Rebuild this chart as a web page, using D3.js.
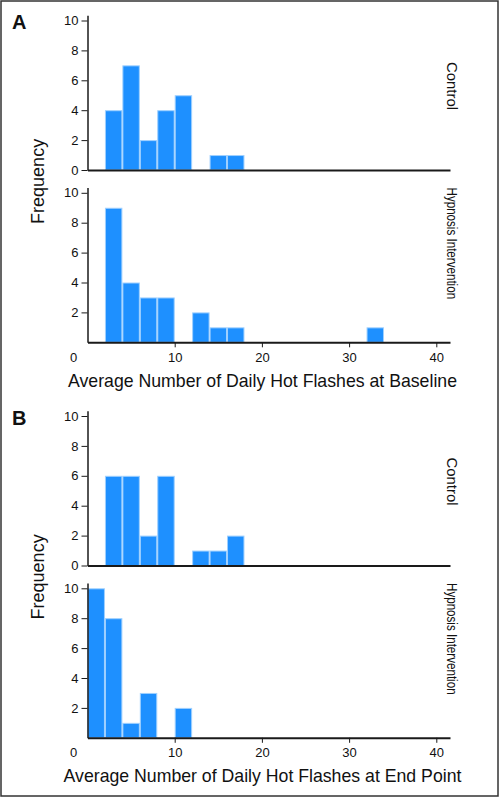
<!DOCTYPE html>
<html>
<head>
<meta charset="utf-8">
<script src="https://cdn.jsdelivr.net/npm/d3@7"></script>
<style>
  html, body { margin: 0; padding: 0; background: #fff; }
  svg { display: block; }
  text { font-family: "Liberation Sans", Arial, Helvetica, sans-serif; fill: #111; }
</style>
</head>
<body>
<svg id="chart" width="500" height="798"></svg>
<script>
// ---- Data (bin width 2, bins starting at these left edges) ----
const binStarts = [0, 2, 4, 6, 8, 10, 12, 14, 16, 18, 20, 22, 24, 26, 28, 30, 32];
const binWidth = 2;
const baselineControl  = [0, 4, 7, 2, 4, 5, 0, 1, 1, 0, 0, 0, 0, 0, 0, 0, 0];
const baselineHypnosis = [0, 9, 4, 3, 3, 0, 2, 1, 1, 0, 0, 0, 0, 0, 0, 0, 1];
const endControl       = [0, 6, 6, 2, 6, 0, 1, 1, 2, 0, 0, 0, 0, 0, 0, 0, 0];
const endHypnosis      = [10, 8, 1, 3, 0, 2, 0, 0, 0, 0, 0, 0, 0, 0, 0, 0, 0];

const groupLabels = ["Control", "Hypnosis Intervention"];
const panelLetters = ["A", "B"];
const xTitles = ["Average Number of Daily Hot Flashes at Baseline",
                 "Average Number of Daily Hot Flashes at End Point"];
const yTitle = "Frequency";
const controlTicks = [0, 2, 4, 6, 8, 10];
const hypnosisTicks = [2, 4, 6, 8, 10];
const xTicks = [10, 20, 30, 40];

// ---- Layout ----
const svg = d3.select("#chart");
const W = 500, H = 798;
const barFill = "#1e90ff";
const barStroke = "#9fd0ff";
const axisColor = "#1a1a1a";

svg.append("rect")
  .attr("x", 1).attr("y", 1).attr("width", W - 3).attr("height", H - 3)
  .attr("fill", "none").attr("stroke", "#333").attr("stroke-width", 1.5);

const x = d3.scaleLinear().domain([0, 41.57]).range([87.5, 450]);

const blocks = [
  { series: [baselineControl, baselineHypnosis], offset: 0 },
  { series: [endControl, endHypnosis], offset: 395.5 }
];

const baseCtrl = 170, baseHyp = 342.3, unit = 14.95, yMax = 10.35;
const stripLengths = [48, 111.6];

blocks.forEach((blk, bi) => {
  const g = svg.append("g").attr("transform", `translate(0,${blk.offset})`);
  const bases = [baseCtrl, baseHyp];

  blk.series.forEach((vals, si) => {
    const base = bases[si];
    const y = d3.scaleLinear().domain([0, yMax]).range([base, base - unit * yMax]);
    const pg = g.append("g");

    // bars
    const data = binStarts.map((s, i) => ({ x0: s, x1: s + binWidth, n: vals[i] })).filter(d => d.n > 0);
    pg.selectAll("rect.bar").data(data).join("rect")
      .attr("class", "bar")
      .attr("x", d => x(d.x0) + 0.5)
      .attr("width", d => x(d.x1) - x(d.x0) - 1)
      .attr("y", d => y(d.n) + 0.5)
      .attr("height", d => y(0) - y(d.n) - 0.5)
      .attr("fill", barFill)
      .attr("stroke", barStroke)
      .attr("stroke-width", 1);

    // y axis
    const ya = pg.append("g")
      .attr("transform", `translate(${x(0)},0)`)
      .call(d3.axisLeft(y).tickValues(si === 0 ? controlTicks : hypnosisTicks)
        .tickSize(6).tickPadding(3).tickSizeOuter(0).tickFormat(d3.format("d")));
    ya.select(".domain").attr("stroke", axisColor).attr("stroke-width", 1.5);
    ya.selectAll(".tick line").attr("stroke", axisColor).attr("stroke-width", 1);
    ya.selectAll(".tick text").attr("font-size", 13).attr("fill", "#111")
      .style("font-family", '"Liberation Sans", Arial, sans-serif');

    // x axis
    const xa = pg.append("g")
      .attr("transform", `translate(0,${y(0)})`)
      .call(d3.axisBottom(x).tickValues(si === 1 ? xTicks : [])
        .tickSize(5).tickPadding(5).tickSizeOuter(0).tickFormat(d3.format("d")));
    xa.select(".domain").attr("stroke", axisColor).attr("stroke-width", 2);
    xa.selectAll(".tick line").attr("stroke", axisColor).attr("stroke-width", 1);
    xa.selectAll(".tick text").attr("font-size", 13).attr("fill", "#111")
      .style("font-family", '"Liberation Sans", Arial, sans-serif');

    if (si === 1) {
      // detached "0" label
      xa.append("text")
        .attr("x", x(0) - 14).attr("y", 10).attr("dy", "0.71em")
        .attr("text-anchor", "middle").attr("font-size", 13).attr("fill", "#111")
        .style("font-family", '"Liberation Sans", Arial, sans-serif')
        .text("0");
    }

    // strip label on the right
    const centerY = si === 0 ? y(0) - 84 : y(0) - 99;
    pg.append("text")
      .attr("transform", `translate(447,${centerY}) rotate(90)`)
      .attr("text-anchor", "middle")
      .attr("font-size", 14)
      .attr("textLength", stripLengths[si])
      .attr("lengthAdjust", "spacingAndGlyphs")
      .text(groupLabels[si]);
  });

  // Frequency title
  g.append("text")
    .attr("transform", `translate(43.5,${(baseCtrl + baseHyp - unit * 10) / 2}) rotate(-90)`)
    .attr("text-anchor", "middle")
    .attr("font-size", 18)
    .text(yTitle);

  // x axis title
  g.append("text")
    .attr("x", 262.5).attr("y", 386.7)
    .attr("text-anchor", "middle")
    .attr("font-size", 17.7)
    .text(xTitles[bi]);

  // panel letter
  g.append("text")
    .attr("x", 12).attr("y", 29.3)
    .attr("font-size", 20).attr("font-weight", "bold")
    .text(panelLetters[bi]);
});
</script>
</body>
</html>
